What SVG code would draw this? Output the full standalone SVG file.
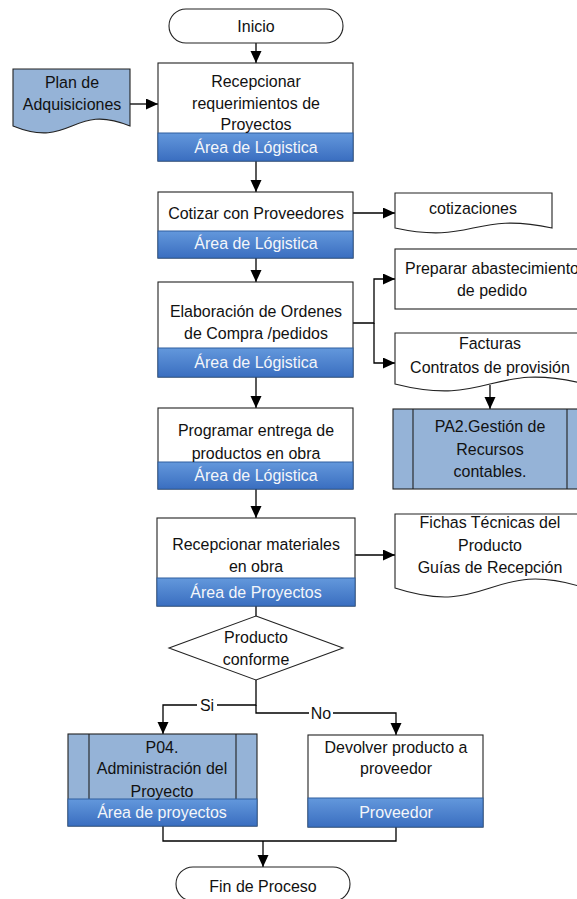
<svg xmlns="http://www.w3.org/2000/svg" width="577" height="899" viewBox="0 0 577 899">
  <defs>
    <linearGradient id="band" x1="0" y1="0" x2="0" y2="1">
      <stop offset="0" stop-color="#6398DC"/>
      <stop offset="1" stop-color="#3A6EC0"/>
    </linearGradient>
    <marker id="arrow" markerUnits="userSpaceOnUse" markerWidth="12" markerHeight="12" refX="12" refY="5.5" orient="auto">
      <path d="M0,0 L12,5.5 L0,11 z" fill="#000"/>
    </marker>
  </defs>
  <style>
    text { font-family: "Liberation Sans", Arial, sans-serif; font-size: 17px; fill: #111; text-anchor: middle; }
    .box { fill: #fff; stroke: #222; stroke-width: 1.1; }
    .sub { fill: #95B3D7; stroke: #222; stroke-width: 1.1; }
    .band { fill: url(#band); stroke: #2F5E9F; stroke-width: 1; }
    .bandtxt { fill: #F4F6FA; }
    .inner { stroke: #222; stroke-width: 1.1; fill: none; }
    .conn { fill: none; stroke: #000; stroke-width: 1.3; }
    .lbl { fill: #fff; }
  </style>

  <!-- Connectors -->
  <g id="connectors">
    <path class="conn" d="M256,43 V63" marker-end="url(#arrow)"/>
    <path class="conn" d="M130,104 H158" stroke="#555" marker-end="url(#arrow)"/>
    <path class="conn" d="M256,161 V192" marker-end="url(#arrow)"/>
    <path class="conn" d="M353,213 H395" marker-end="url(#arrow)"/>
    <path class="conn" d="M256,258 V282" marker-end="url(#arrow)"/>
    <path class="conn" d="M353,323 H374 V279 H395" marker-end="url(#arrow)"/>
    <path class="conn" d="M374,323 V363 H395" marker-end="url(#arrow)"/>
    <path class="conn" d="M490,385 V409" marker-end="url(#arrow)"/>
    <path class="conn" d="M256,377 V408" marker-end="url(#arrow)"/>
    <path class="conn" d="M256,489 V518" marker-end="url(#arrow)"/>
    <path class="conn" d="M355,555 H395" marker-end="url(#arrow)"/>
    <path class="conn" d="M256,606 V616"/>
    <path class="conn" d="M256,680 V705 H163 V734" marker-end="url(#arrow)"/>
    <path class="conn" d="M256,705 V713 H396 V735" marker-end="url(#arrow)"/>
    <path class="conn" d="M163,826 V841 H396 V827"/>
    <path class="conn" d="M263,841 V867" marker-end="url(#arrow)"/>
    <rect class="lbl" x="197" y="697" width="20" height="17"/>
    <rect class="lbl" x="309" y="705" width="24" height="17"/>
    <g transform="translate(207 0) scale(0.94 1)"><text x="0" y="711">Si</text></g>
    <g transform="translate(321 0) scale(0.94 1)"><text x="0" y="719">No</text></g>
  </g>

  <!-- Start -->
  <g id="inicio">
    <rect class="box" x="169" y="9" width="174" height="34" rx="17"/>
    <g transform="translate(256 0) scale(0.94 1)"><text x="0" y="32">Inicio</text></g>
  </g>

  <!-- Input document -->
  <g id="plan">
    <path class="sub" d="M13,69 H130 V126 C72,102 72,150 13,126 Z"/>
    <g transform="translate(72 0) scale(0.94 1)">
      <text x="0" y="88">Plan de</text>
      <text x="0" y="110">Adquisiciones</text>
    </g>
  </g>

  <g id="recepcionar">
    <rect class="box" x="158" y="63" width="195" height="98"/>
    <rect class="band" x="158" y="133" width="195" height="28"/>
    <g transform="translate(256 0) scale(0.94 1)">
      <text x="0" y="87">Recepcionar</text>
      <text x="0" y="109">requerimientos de</text>
      <text x="0" y="130">Proyectos</text>
      <text class="bandtxt" x="0" y="153">Área de Lógistica</text>
    </g>
  </g>

  <g id="cotizar">
    <rect class="box" x="158" y="192" width="195" height="66"/>
    <rect class="band" x="158" y="231" width="195" height="27"/>
    <g transform="translate(256 0) scale(0.94 1)">
      <text x="0" y="219">Cotizar con Proveedores</text>
      <text class="bandtxt" x="0" y="249">Área de Lógistica</text>
    </g>
  </g>

  <g id="cotizaciones">
    <path class="box" d="M395,193 H552 V228 C473,211 473,245 395,228 Z"/>
    <g transform="translate(473 0) scale(0.94 1)"><text x="0" y="214">cotizaciones</text></g>
  </g>

  <g id="elaboracion">
    <rect class="box" x="158" y="282" width="195" height="95"/>
    <rect class="band" x="158" y="348" width="195" height="29"/>
    <g transform="translate(256 0) scale(0.94 1)">
      <text x="0" y="317">Elaboración de Ordenes</text>
      <text x="0" y="339">de Compra /pedidos</text>
      <text class="bandtxt" x="0" y="368">Área de Lógistica</text>
    </g>
  </g>

  <g id="preparar">
    <rect class="box" x="395" y="249" width="194" height="60"/>
    <g transform="translate(492 0) scale(0.94 1)">
      <text x="0" y="274">Preparar abastecimiento</text>
      <text x="0" y="296">de pedido</text>
    </g>
  </g>

  <g id="facturas">
    <path class="box" d="M395,333 H585 V384 C490,360 490,408 395,384 Z"/>
    <g transform="translate(490 0) scale(0.94 1)">
      <text x="0" y="349">Facturas</text>
      <text x="0" y="373">Contratos de provisión</text>
    </g>
  </g>

  <g id="pa2">
    <rect class="sub" x="393" y="409" width="194" height="80"/>
    <path class="inner" d="M413,409 V489 M567,409 V489"/>
    <g transform="translate(490 0) scale(0.94 1)">
      <text x="0" y="432">PA2.Gestión de</text>
      <text x="0" y="455">Recursos</text>
      <text x="0" y="477">contables.</text>
    </g>
  </g>

  <g id="programar">
    <rect class="box" x="158" y="408" width="195" height="81"/>
    <rect class="band" x="158" y="462" width="195" height="27"/>
    <g transform="translate(256 0) scale(0.94 1)">
      <text x="0" y="436">Programar entrega de</text>
      <text x="0" y="459">productos en obra</text>
      <text class="bandtxt" x="0" y="481">Área de Lógistica</text>
    </g>
  </g>

  <g id="recepcionar-materiales">
    <rect class="box" x="157" y="518" width="198" height="88"/>
    <rect class="band" x="157" y="578" width="198" height="28"/>
    <g transform="translate(256 0) scale(0.94 1)">
      <text x="0" y="550">Recepcionar materiales</text>
      <text x="0" y="572">en obra</text>
      <text class="bandtxt" x="0" y="598">Área de Proyectos</text>
    </g>
  </g>

  <g id="fichas">
    <path class="box" d="M395,514 H585 V588 C490,557 490,619 395,588 Z"/>
    <g transform="translate(490 0) scale(0.94 1)">
      <text x="0" y="528">Fichas Técnicas del</text>
      <text x="0" y="551">Producto</text>
      <text x="0" y="573">Guías de Recepción</text>
    </g>
  </g>

  <g id="decision">
    <path class="box" d="M256,616 L343,648 L256,680 L169,648 Z"/>
    <g transform="translate(256 0) scale(0.94 1)">
      <text x="0" y="643">Producto</text>
      <text x="0" y="665">conforme</text>
    </g>
  </g>

  <g id="p04">
    <rect class="sub" x="68" y="734" width="189" height="92"/>
    <path class="inner" d="M89,734 V799 M236,734 V799"/>
    <rect class="band" x="68" y="799" width="189" height="27"/>
    <g transform="translate(162 0) scale(0.94 1)">
      <text x="0" y="753">P04.</text>
      <text x="0" y="774">Administración del</text>
      <text x="0" y="797">Proyecto</text>
      <text class="bandtxt" x="0" y="818">Área de proyectos</text>
    </g>
  </g>

  <g id="devolver">
    <rect class="box" x="308" y="735" width="175" height="92"/>
    <rect class="band" x="308" y="798" width="175" height="29"/>
    <g transform="translate(396 0) scale(0.94 1)">
      <text x="0" y="753">Devolver producto a</text>
      <text x="0" y="774">proveedor</text>
      <text class="bandtxt" x="0" y="818">Proveedor</text>
    </g>
  </g>

  <g id="fin">
    <rect class="box" x="176" y="867" width="174" height="34" rx="17"/>
    <g transform="translate(263 0) scale(0.94 1)"><text x="0" y="892">Fin de Proceso</text></g>
  </g>
</svg>
